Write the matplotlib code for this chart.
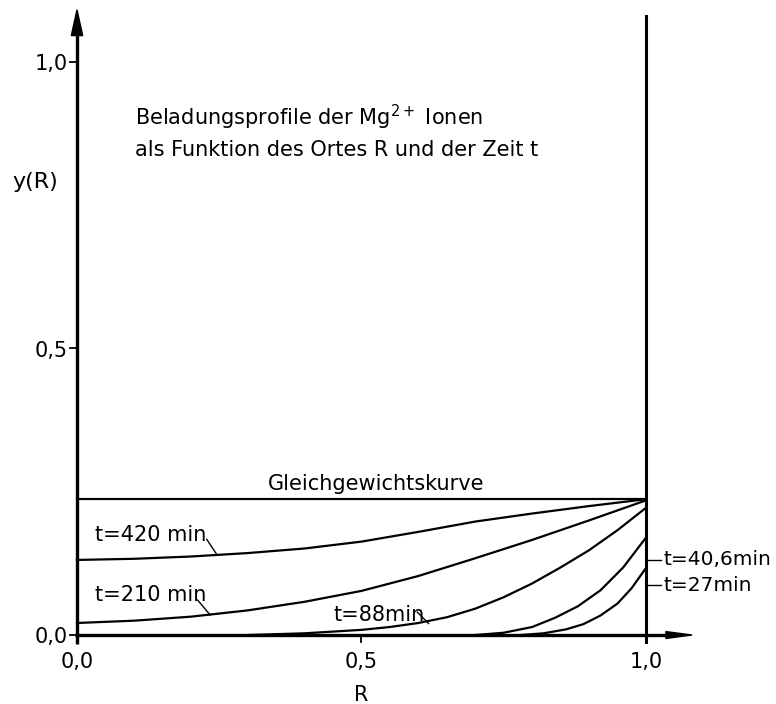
import matplotlib
matplotlib.use("Agg")
import matplotlib.pyplot as plt
import numpy as np

# loading profiles y(R)
R_eq = [0.0, 1.0]
y_eq = [0.237, 0.237]

R_420 = [0.0, 0.1, 0.2, 0.3, 0.4, 0.5, 0.6, 0.7, 0.8, 0.9, 1.0]
y_420 = [0.131, 0.133, 0.137, 0.143, 0.151, 0.163, 0.180, 0.198, 0.212, 0.225, 0.237]

R_210 = [0.0, 0.1, 0.2, 0.3, 0.4, 0.5, 0.6, 0.7, 0.8, 0.9, 1.0]
y_210 = [0.021, 0.025, 0.032, 0.043, 0.058, 0.077, 0.103, 0.134, 0.166, 0.200, 0.235]

R_88 = [0.30, 0.40, 0.50, 0.55, 0.60, 0.65, 0.70, 0.75, 0.80, 0.85, 0.90, 0.95, 1.0]
y_88 = [0.0, 0.003, 0.009, 0.014, 0.021, 0.031, 0.046, 0.066, 0.090, 0.118, 0.148, 0.183, 0.222]

R_406 = [0.70, 0.75, 0.80, 0.84, 0.88, 0.92, 0.96, 1.0]
y_406 = [0.0, 0.004, 0.014, 0.030, 0.050, 0.078, 0.118, 0.170]

R_27 = [0.78, 0.82, 0.86, 0.89, 0.92, 0.95, 0.975, 1.0]
y_27 = [0.0, 0.003, 0.010, 0.019, 0.034, 0.055, 0.082, 0.117]

ticks = [0.0, 0.5, 1.0]
tick_labels = ["0,0", "0,5", "1,0"]

fig = plt.figure(figsize=(7.76, 7.04), dpi=100)
ax = fig.add_axes([0.0259, 0.0003, 0.9532, 0.9931])
ax.set_xlim(-0.1, 1.2)
ax.set_ylim(-0.12, 1.1)
ax.axis("off")

plt.rcParams['font.family'] = ['DejaVu Sans']
fs = 15
fs_tick = 15
lw_curve = 1.6

# axes with arrows
ax.plot([0, 0], [-0.016, 1.05], color="black", lw=2.4, solid_capstyle="butt")
ax.plot([-0.004, 1.04], [0, 0], color="black", lw=2.4, solid_capstyle="butt")
ax.fill([-0.010, 0.010, 0.0], [1.046, 1.046, 1.091], color="black")
ax.fill([1.035, 1.035, 1.081], [-0.006, 0.006, 0.0], color="black")
# right boundary R = 1
ax.plot([1.0, 1.0], [-0.012, 1.08], color="black", lw=2.2)

# ticks
for t, lab in zip(ticks, tick_labels):
    ax.plot([-0.012, 0], [t, t], color="black", lw=1.3)
    ax.text(-0.017, t - 0.004, lab, ha="right", va="center", fontsize=fs_tick)
    if t > 0:
        ax.plot([t, t], [0, -0.013], color="black", lw=1.3)
    ax.text(t, -0.047, lab, ha="center", va="center", fontsize=fs_tick)

ax.text(0.5, -0.105, "R", ha="center", va="center", fontsize=fs)
ax.text(-0.074, 0.79, "y(R)", ha="center", va="center", fontsize=fs + 1)

# curves
ax.plot(R_eq, y_eq, color="black", lw=lw_curve)
ax.plot(R_420, y_420, color="black", lw=lw_curve)
ax.plot(R_210, y_210, color="black", lw=lw_curve)
ax.plot(R_88, y_88, color="black", lw=lw_curve)
ax.plot(R_406, y_406, color="black", lw=lw_curve)
ax.plot(R_27, y_27, color="black", lw=lw_curve)

# curve labels
ax.text(0.336, 0.253, "Gleichgewichtskurve", ha="left", va="baseline", fontsize=fs)
ax.text(0.032, 0.164, "t=420 min", ha="left", va="baseline", fontsize=fs)
ax.plot([0.228, 0.246], [0.167, 0.140], color="black", lw=1.0)
ax.text(0.032, 0.059, "t=210 min", ha="left", va="baseline", fontsize=fs)
ax.plot([0.212, 0.234], [0.061, 0.035], color="black", lw=1.0)
ax.text(0.45, 0.025, "t=88min", ha="left", va="baseline", fontsize=fs)
ax.plot([0.598, 0.618], [0.040, 0.020], color="black", lw=1.0)
ax.plot([1.0, 1.027], [0.131, 0.131], color="black", lw=1.0)
ax.text(1.03, 0.131, "t=40,6min", ha="left", va="center", fontsize=14.5)
ax.plot([1.0, 1.027], [0.087, 0.087], color="black", lw=1.0)
ax.text(1.03, 0.087, "t=27min", ha="left", va="center", fontsize=14.5)

# caption inside the plot
ax.text(0.102, 0.889, r"Beladungsprofile der Mg$^{2+}$ Ionen", ha="left",
        va="baseline", fontsize=fs)
ax.text(0.102, 0.836, "als Funktion des Ortes R und der Zeit t", ha="left",
        va="baseline", fontsize=fs)

plt.savefig("out.png", dpi=100)
